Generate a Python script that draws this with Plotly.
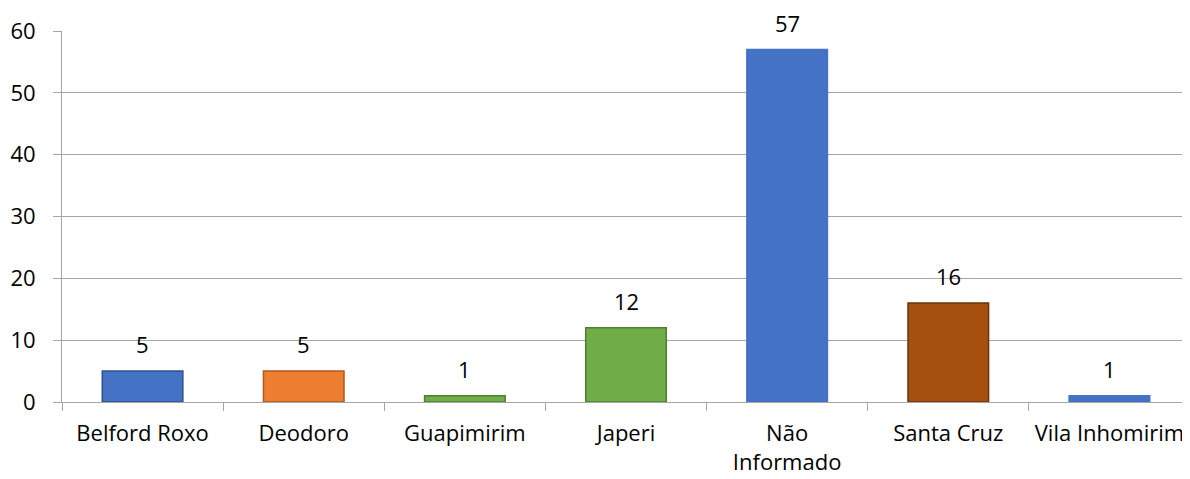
import plotly.graph_objects as go

categories = ["Belford Roxo", "Deodoro", "Guapimirim", "Japeri", "Não<br>Informado", "Santa Cruz", "Vila Inhomirim"]
values = [5, 5, 1, 12, 57, 16, 1]
colors = ["#4472C4", "#ED7D31", "#70AD47", "#70AD47", "#4472C4", "#A5500F", "#4472C4"]
edge_colors = ["#2F528F", "#AE5A21", "#507E32", "#507E32", "#4472C4", "#6B3409", "#4472C4"]
y_ticks = [0, 10, 20, 30, 40, 50, 60]

font_family = "'Open Sans', Lato, sans-serif"

fig = go.Figure()
fig.add_trace(go.Bar(
    x=categories,
    y=values,
    marker=dict(color=colors, line=dict(color=edge_colors, width=1.5)),
    cliponaxis=False,
    hoverinfo="x+y",
))

for c, v in zip(categories, values):
    fig.add_annotation(
        x=c, y=v, text=str(v), showarrow=False,
        yanchor="bottom", yshift=10,
        font=dict(size=22, color="#000000", family=font_family),
    )

fig.update_layout(
    width=1182,
    height=471,
    margin=dict(l=54, r=0, t=23, b=77, autoexpand=False),
    paper_bgcolor="white",
    plot_bgcolor="white",
    bargap=0.5,
    showlegend=False,
    font=dict(family=font_family, size=22, color="#000000"),
    xaxis=dict(
        showline=True,
        linecolor="#A6A6A6",
        linewidth=1,
        ticks="outside",
        tickson="boundaries",
        ticklen=8,
        tickcolor="#A6A6A6",
        tickfont=dict(size=22, color="#000000"),
        tickangle=0,
        ticklabelstandoff=12,
        showgrid=False,
        automargin=False,
    ),
    yaxis=dict(
        range=[0, 60],
        tickvals=y_ticks,
        showline=True,
        linecolor="#A6A6A6",
        linewidth=1,
        ticks="outside",
        ticklen=8,
        tickcolor="#A6A6A6",
        showgrid=True,
        gridcolor="#A6A6A6",
        gridwidth=1,
        zeroline=False,
        tickfont=dict(size=22, color="#000000"),
        ticklabelstandoff=13,
        automargin=False,
    ),
)

fig.write_html("out.html")
